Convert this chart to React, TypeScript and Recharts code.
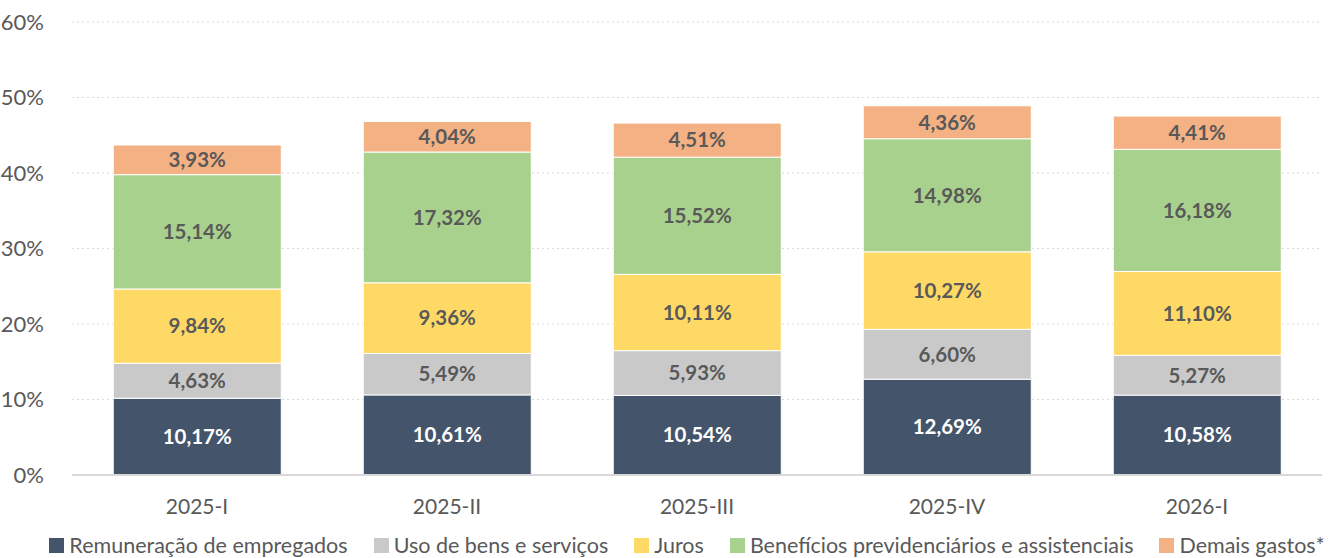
import React from "react";
import { BarChart, Bar, XAxis, YAxis, CartesianGrid, Legend, LabelList } from "recharts";

document.body.style.margin = "0";

const periods = ["2025-I", "2025-II", "2025-III", "2025-IV", "2026-I"];
const remuneracao = [10.17, 10.61, 10.54, 12.69, 10.58];
const usoBens = [4.63, 5.49, 5.93, 6.6, 5.27];
const juros = [9.84, 9.36, 10.11, 10.27, 11.1];
const beneficios = [15.14, 17.32, 15.52, 14.98, 16.18];
const demais = [3.93, 4.04, 4.51, 4.36, 4.41];
const yTicks = [0, 10, 20, 30, 40, 50, 60];

const series = [
  { key: "rem", name: "Remuneração de empregados", color: "#44546A", label: "#FFFFFF" },
  { key: "uso", name: "Uso de bens e serviços", color: "#C9C9C9", label: "#595959" },
  { key: "juros", name: "Juros", color: "#FFD966", label: "#595959" },
  { key: "ben", name: "Benefícios previdenciários e assistenciais", color: "#A9D18E", label: "#595959" },
  { key: "dem", name: "Demais gastos*", color: "#F4B183", label: "#595959" },
];

const data = periods.map((p, i) => ({
  name: p,
  rem: remuneracao[i],
  uso: usoBens[i],
  juros: juros[i],
  ben: beneficios[i],
  dem: demais[i],
}));

const FONT = "Lato, 'Open Sans', sans-serif";
const fmt = (v: any) => Number(v).toFixed(2).replace(".", ",") + "%";

function LegendContent() {
  return (
    <div style={{ display: "flex", justifyContent: "center", alignItems: "center", fontFamily: FONT, fontSize: 21.5, color: "#595959", paddingTop: 12, paddingLeft: 52, whiteSpace: "nowrap" }}>
      {series.map((s, i) => (
        <div key={s.key} style={{ display: "flex", alignItems: "center", marginRight: i < series.length - 1 ? 26 : 0 }}>
          <span style={{ width: 15, height: 15, background: s.color, display: "inline-block", marginRight: 5 }} />
          <span>{s.name}</span>
        </div>
      ))}
    </div>
  );
}

export default function App() {
  return (
    <div style={{ width: 1338, height: 558, background: "#fff" }}>
      <BarChart
        width={1338}
        height={558}
        data={data}
        margin={{ top: 22, right: 16, bottom: 0, left: 0 }}
        barCategoryGap="16.5%"
      >
        <CartesianGrid vertical={false} stroke="#D9D9D9" strokeDasharray="2 3" />
        <XAxis
          dataKey="name"
          height={45}
          tickLine={false}
          axisLine={{ stroke: "#D9D9D9", strokeWidth: 2 }}
          tick={{ fill: "#595959", fontSize: 21, fontFamily: FONT }}
          tickMargin={18}
        />
        <YAxis
          width={72}
          domain={[0, 60]}
          ticks={yTicks}
          axisLine={false}
          tickLine={false}
          tickFormatter={(v) => `${v}%`}
          tick={{ fill: "#595959", fontSize: 22, fontFamily: FONT }}
          tickMargin={22}
        />
        <Legend verticalAlign="bottom" height={38} content={() => <LegendContent />} />
        {series.map((s) => (
          <Bar
            key={s.key}
            dataKey={s.key}
            name={s.name}
            stackId="a"
            fill={s.color}
            stroke="#FFFFFF"
            strokeWidth={1}
            isAnimationActive={false}
          >
            <LabelList
              dataKey={s.key}
              position="center"
              formatter={fmt}
              fill={s.label}
              style={{ fontFamily: FONT, fontSize: 20.5, fontWeight: 700 }}
            />
          </Bar>
        ))}
      </BarChart>
    </div>
  );
}
